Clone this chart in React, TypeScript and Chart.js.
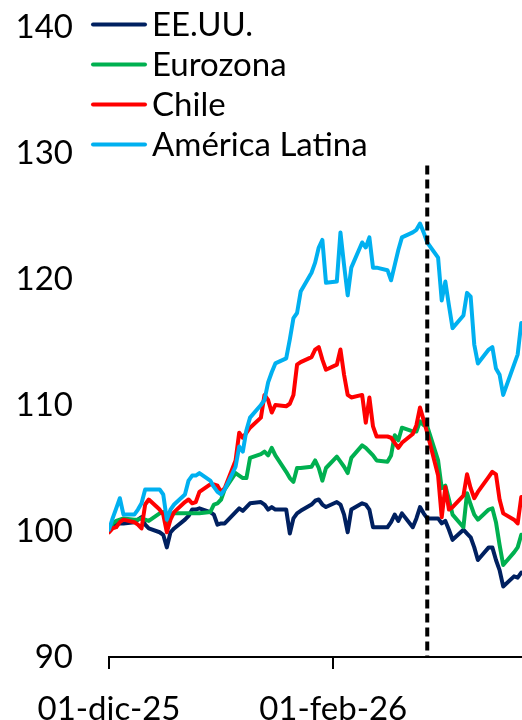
import { useEffect, useRef } from "react";
import { Chart, registerables } from "chart.js";

Chart.register(...registerables);

// Business days, 01-dic-25 to 25-mar-26
const fechas = [
  "2025-12-01", "2025-12-02", "2025-12-03", "2025-12-04", "2025-12-05",
  "2025-12-08", "2025-12-09", "2025-12-10", "2025-12-11", "2025-12-12",
  "2025-12-15", "2025-12-16", "2025-12-17", "2025-12-18", "2025-12-19",
  "2025-12-22", "2025-12-23", "2025-12-24", "2025-12-25", "2025-12-26",
  "2025-12-29", "2025-12-30", "2025-12-31",
  "2026-01-01", "2026-01-02",
  "2026-01-05", "2026-01-06", "2026-01-07", "2026-01-08", "2026-01-09",
  "2026-01-12", "2026-01-13", "2026-01-14", "2026-01-15", "2026-01-16",
  "2026-01-19", "2026-01-20", "2026-01-21", "2026-01-22", "2026-01-23",
  "2026-01-26", "2026-01-27", "2026-01-28", "2026-01-29", "2026-01-30",
  "2026-02-02", "2026-02-03", "2026-02-04", "2026-02-05", "2026-02-06",
  "2026-02-09", "2026-02-10", "2026-02-11", "2026-02-12", "2026-02-13",
  "2026-02-16", "2026-02-17", "2026-02-18", "2026-02-19", "2026-02-20",
  "2026-02-23", "2026-02-24", "2026-02-25", "2026-02-26", "2026-02-27",
  "2026-03-02", "2026-03-03", "2026-03-04", "2026-03-05", "2026-03-06",
  "2026-03-09", "2026-03-10", "2026-03-11", "2026-03-12", "2026-03-13",
  "2026-03-16", "2026-03-17", "2026-03-18", "2026-03-19", "2026-03-20",
  "2026-03-23", "2026-03-24", "2026-03-25",
];

// Index, base 100 = 01-dic-25
const eeuu = [
  100.0, 100.3, 100.6, 100.6, 100.6, 100.7, 100.9, 101.1, 100.5, 100.2,
  99.9, 99.7, 98.7, 99.9, 100.2, 100.9, 101.2, 101.7, 101.7, 101.8,
  101.5, 101.3, 100.5,
  100.6, 100.6, 101.5, 101.8, 101.6, 101.9, 102.2, 102.3, 102.1, 101.7,
  101.9, 101.7, 101.7, 99.8, 101.0, 101.4, 101.6, 102.1, 102.4, 102.5,
  102.1, 101.9,
  102.3, 102.1, 101.3, 99.9, 101.7, 102.2, 102.1, 101.7, 100.3, 100.3,
  100.3, 100.7, 101.3, 100.8, 101.4, 100.3, 101.0, 101.9, 101.4, 101.0,
  101.0, 100.6, 100.8, 100.1, 99.3, 100.1, 99.8, 99.5, 98.7, 97.7,
  98.7, 98.7, 97.7, 96.9, 95.6, 96.4, 96.3, 96.7,
];

const eurozona = [
  100.1, 100.6, 100.8, 100.9, 101.0, 100.9, 100.9, 101.0, 100.9, 100.8,
  101.4, 101.5, 100.7, 101.3, 101.4, 101.4, 101.4, 101.4, 101.4, 101.4,
  101.5, 102.1, 102.2,
  102.5, 103.3, 104.6, 104.4, 104.2, 104.2, 105.8, 106.1, 106.3, 106.0,
  106.6, 106.0, 104.7, 104.2, 103.9, 105.0, 105.0, 105.1, 105.6, 105.0,
  104.0, 105.0,
  105.9, 105.5, 105.1, 104.6, 105.8, 106.8, 106.6, 106.3, 106.0, 105.6,
  105.5, 106.0, 107.6, 107.2, 108.2, 107.9, 107.9, 108.7, 108.4, 108.3,
  105.6, 103.4, 103.6, 102.5, 101.3, 100.3, 103.0, 102.1, 101.3, 100.9,
  101.7, 101.8, 100.7, 98.9, 97.3, 98.3, 98.7, 99.7,
];

const chile = [
  99.9, 100.2, 100.3, 100.7, 100.9, 100.7, 100.5, 100.2, 102.1, 102.5,
  101.7, 101.3, 99.9, 100.9, 101.5, 102.3, 102.5, 102.2, 102.3, 103.1,
  103.7, 103.7, 103.6,
  103.1, 103.4, 105.6, 107.8, 107.4, 107.8, 108.2, 109.0, 110.8, 110.4,
  109.4, 110.0, 109.9, 110.1, 110.8, 113.2, 113.4, 113.8, 114.4, 114.6,
  113.6, 112.8,
  113.2, 114.4, 112.4, 110.8, 110.6, 110.8, 108.6, 110.6, 108.3, 107.5,
  107.5, 107.4, 107.0, 106.6, 107.0, 107.7, 108.4, 109.8, 108.8, 107.8,
  104.4, 101.1, 103.5, 101.7, 101.9, 102.8, 104.5, 103.4, 102.6, 103.1,
  104.3, 104.7, 104.5, 102.5, 101.4, 100.9, 100.6, 102.7,
];

const americaLatina = [
  100.1, 101.0, 101.8, 102.6, 101.3, 101.3, 101.7, 102.2, 103.3, 103.3,
  103.3, 102.9, 100.9, 101.7, 102.1, 102.9, 104.0, 104.4, 104.4, 104.6,
  104.0, 103.5, 103.1,
  102.9, 103.3, 105.1, 106.7, 106.3, 108.0, 109.0, 110.0, 110.4, 111.8,
  112.6, 113.3, 113.7, 115.2, 116.9, 117.3, 119.0, 120.5, 121.3, 122.5,
  123.1, 119.7,
  119.8, 123.7, 121.1, 118.7, 120.9, 122.9, 122.5, 123.3, 120.9, 120.9,
  120.7, 119.9, 121.1, 122.3, 123.3, 123.7, 123.9, 124.4, 123.7, 122.9,
  121.7, 118.3, 119.8, 117.9, 116.1, 117.1, 118.9, 118.6, 114.8, 113.3,
  114.4, 114.6, 112.9, 112.4, 110.8, 113.2, 114.0, 116.5,
];

const series = [
  { nombre: "EE.UU.", valores: eeuu, color: "#002060" },
  { nombre: "Eurozona", valores: eurozona, color: "#00B050" },
  { nombre: "Chile", valores: chile, color: "#FF0000" },
  { nombre: "América Latina", valores: americaLatina, color: "#00B0F0" },
];

const tickFechas = ["2025-12-01", "2026-02-01"];
const tickEtiquetas = ["01-dic-25", "01-feb-26"];
const ejeYMin = 90;
const ejeYMax = 140;
const ejeYPaso = 10;
const ejeXFin = 114.2; // days after 01-dic-25

// Vertical dashed event marker
const fechaEvento = "2026-02-27";
const topeEvento = 129;

const FUENTE = "Lato";
const TAM = 33;

const dia = (iso: string) => {
  const [a, m, d] = iso.split("-").map(Number);
  return (Date.UTC(a, m - 1, d) - Date.UTC(2025, 11, 1)) / 86400000;
};

const marcador = {
  id: "marcador",
  afterDatasetsDraw(chart: any) {
    const { ctx, scales, chartArea } = chart;
    const x = scales.x.getPixelForValue(dia(fechaEvento));
    const yTop = scales.y.getPixelForValue(topeEvento);
    ctx.save();
    ctx.strokeStyle = "#000";
    ctx.lineWidth = 4;
    ctx.setLineDash([9, 5]);
    ctx.beginPath();
    ctx.moveTo(x, yTop);
    ctx.lineTo(x, chartArea.bottom);
    ctx.stroke();
    ctx.restore();
  },
};

const leyenda = {
  id: "leyenda",
  afterDraw(chart: any) {
    const { ctx } = chart;
    ctx.save();
    ctx.font = `${TAM}px ${FUENTE}`;
    ctx.textBaseline = "middle";
    ctx.fillStyle = "#000";
    series.forEach((s, i) => {
      const y = 24.5 + i * 40;
      ctx.strokeStyle = s.color;
      ctx.lineWidth = 4;
      ctx.lineCap = "round";
      ctx.beginPath();
      ctx.moveTo(93, y);
      ctx.lineTo(145, y);
      ctx.stroke();
      ctx.fillText(s.nombre, 152, y + 1);
    });
    ctx.restore();
  },
};

export default function App() {
  const ref = useRef<HTMLCanvasElement>(null);

  useEffect(() => {
    let chart: Chart | null = null;
    let vivo = true;
    const crear = () => {
      if (!vivo || !ref.current) return;
      const font = { family: FUENTE, size: TAM };
      chart = new Chart(ref.current, {
        type: "line",
        data: {
          datasets: series.map((s, i) => ({
            label: s.nombre,
            data: fechas.map((f, k) => ({ x: dia(f), y: s.valores[k] })),
            borderColor: s.color,
            backgroundColor: s.color,
            borderWidth: 4,
            pointRadius: 0,
            tension: 0,
            fill: false,
            borderJoinStyle: "round",
            borderCapStyle: "round",
            order: series.length - 1 - i,
          })),
        },
        options: {
          animation: false,
          responsive: false,
          maintainAspectRatio: false,
          layout: { padding: 0 },
          plugins: {
            legend: { display: false },
            tooltip: { enabled: false },
          },
          scales: {
            x: {
              type: "linear",
              min: 0,
              max: ejeXFin,
              afterBuildTicks: (s: any) => {
                s.ticks = tickFechas.map((f) => ({ value: dia(f) }));
              },
              afterFit: (s: any) => {
                s.height = 63;
                s.paddingLeft = 0;
                s.paddingRight = 0;
              },
              ticks: {
                autoSkip: false,
                maxRotation: 0,
                padding: 21,
                color: "#000",
                font,
                callback: (v: any) => {
                  const k = tickFechas.findIndex((f) => dia(f) === v);
                  return k >= 0 ? tickEtiquetas[k] : "";
                },
              },
              grid: {
                display: true,
                drawOnChartArea: false,
                drawTicks: true,
                tickLength: 12,
                color: "#000",
                lineWidth: 2,
              },
              border: { display: true, color: "#000", width: 2 },
            },
            y: {
              min: ejeYMin,
              max: ejeYMax,
              afterFit: (s: any) => {
                s.width = 109;
                s.paddingTop = 27;
                s.paddingBottom = 0;
              },
              ticks: { stepSize: ejeYPaso, padding: 36, color: "#000", font },
              grid: { display: false, drawTicks: false },
              border: { display: false },
            },
          },
        },
        plugins: [marcador, leyenda],
      } as any);
    };
    const fonts = (document as any).fonts;
    if (fonts && fonts.load) {
      fonts.load(`${TAM}px ${FUENTE}`).then(crear, crear);
    } else {
      crear();
    }
    return () => {
      vivo = false;
      if (chart) chart.destroy();
    };
  }, []);

  return (
    <div style={{ position: "fixed", left: 0, top: 0, width: 522, height: 720, background: "#fff" }}>
      <canvas ref={ref} width={522} height={720} style={{ display: "block" }} />
    </div>
  );
}
